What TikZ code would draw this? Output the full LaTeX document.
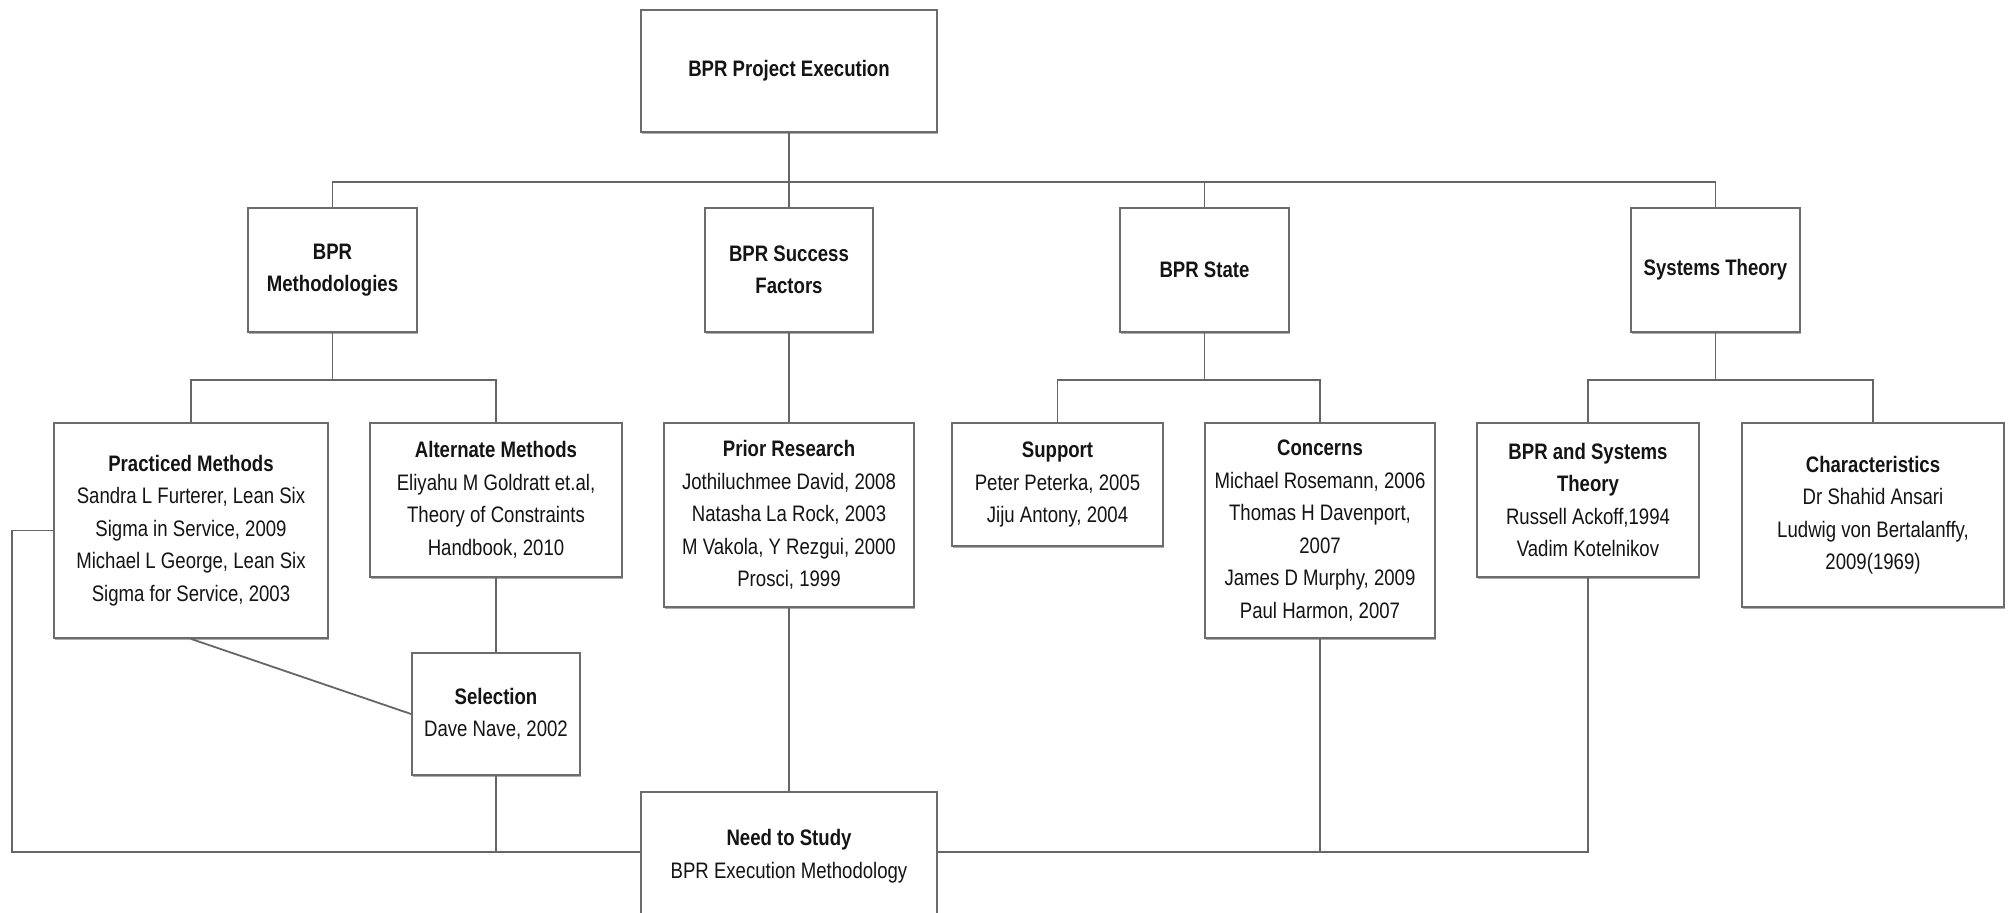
\documentclass[tikz,border=0pt]{standalone}
\usepackage{fontspec}
\setmainfont{Liberation Sans}[FakeStretch=0.83]
\usetikzlibrary{shadows}
\begin{document}
\begin{tikzpicture}[x=0.5pt,y=-0.5pt,
  box/.style={draw=gray!85!black, line width=0.9pt, fill=white, align=center,
    inner sep=0pt, text=black!92, font=\fontsize{11.2}{16.25}\selectfont,
    drop shadow={shadow xshift=0.5pt, shadow yshift=-0.8pt, fill=gray!65, opacity=1}},
  sz/.style 2 args={minimum width=#1*0.5pt, minimum height=#2*0.5pt},
  link/.style={draw=gray!80!black, line width=0.9pt}]

\clip (0,0) rectangle (2010,912);

% top level
\node[box, sz={296}{122}] (top) at (789,71) {\textbf{BPR Project Execution}};

% second level
\node[box, sz={169}{124}] (meth)  at (332.5,270)  {\textbf{BPR}\\\textbf{Methodologies}};
\node[box, sz={168}{124}] (suc)   at (789,270)    {\textbf{BPR Success}\\\textbf{Factors}};
\node[box, sz={169}{124}] (state) at (1204.5,270) {\textbf{BPR State}};
\node[box, sz={169}{124}] (sys)   at (1715.5,270) {\textbf{Systems Theory}};

% third level
\node[box, sz={274}{215}] (prac) at (191,530.5)
  {\textbf{Practiced Methods}\\Sandra L Furterer, Lean Six\\Sigma in Service, 2009\\Michael L George, Lean Six\\Sigma for Service, 2003};
\node[box, sz={252}{154}] (alt) at (496,500)
  {\textbf{Alternate Methods}\\Eliyahu M Goldratt et.al,\\Theory of Constraints\\Handbook, 2010};
\node[box, sz={250}{184}] (prior) at (789,515)
  {\textbf{Prior Research}\\Jothiluchmee David, 2008\\Natasha La Rock, 2003\\M Vakola, Y Rezgui, 2000\\Prosci, 1999};
\node[box, sz={211}{123}] (sup) at (1057.5,484.5)
  {\textbf{Support}\\Peter Peterka, 2005\\Jiju Antony, 2004};
\node[box, sz={230}{215}] (con) at (1320,530.5)
  {\textbf{Concerns}\\Michael Rosemann, 2006\\Thomas H Davenport,\\2007\\James D Murphy, 2009\\Paul Harmon, 2007};
\node[box, sz={222}{154}] (bst) at (1588,500)
  {\textbf{BPR and Systems}\\\textbf{Theory}\\Russell Ackoff,1994\\Vadim Kotelnikov};
\node[box, sz={262}{184}] (chr) at (1873,515)
  {\textbf{Characteristics}\\Dr Shahid Ansari\\Ludwig von Bertalanffy,\\2009(1969)};

% selection and outcome (the outcome box runs past the lower edge)
\node[box, sz={168}{122}] (sel) at (496,714)
  {\textbf{Selection}\\Dave Nave, 2002};
\node[box, sz={296}{128}] (need) at (789,856)
  {\raisebox{4pt}{\parbox{140pt}{\centering\textbf{Need to Study}\\BPR Execution Methodology}}};

% bus lines and the left return path
\coordinate (busA) at (0,182);
\coordinate (busB) at (0,380);
\coordinate (busC) at (0,852);
\coordinate (lft)  at (12,0);

\draw[link] (top.south) -- (suc.north);
\draw[link] (meth.north) -- (meth.north |- busA) -- (sys.north |- busA) -- (sys.north);
\draw[link] (state.north) -- (state.north |- busA);

\draw[link] (meth.south) -- (meth.south |- busB);
\draw[link] (prac.north) -- (prac.north |- busB) -- (alt.north |- busB) -- (alt.north);
\draw[link] (suc.south) -- (prior.north);
\draw[link] (state.south) -- (state.south |- busB);
\draw[link] (sup.north) -- (sup.north |- busB) -- (con.north |- busB) -- (con.north);
\draw[link] (sys.south) -- (sys.south |- busB);
\draw[link] (bst.north) -- (bst.north |- busB) -- (chr.north |- busB) -- (chr.north);

\draw[link] (alt.south) -- (sel.north);
\draw[link] (prac.south) -- (sel.west);
\draw[link] (prior.south) -- (need.north);
\draw[link] (prac.west) -- (prac.west -| lft) -- (lft |- busC) -- (need.west |- busC);
\draw[link] (sel.south) -- (sel.south |- busC);
\draw[link] (need.east |- busC) -- (bst.south |- busC) -- (bst.south);
\draw[link] (con.south) -- (con.south |- busC);
\end{tikzpicture}
\end{document}
